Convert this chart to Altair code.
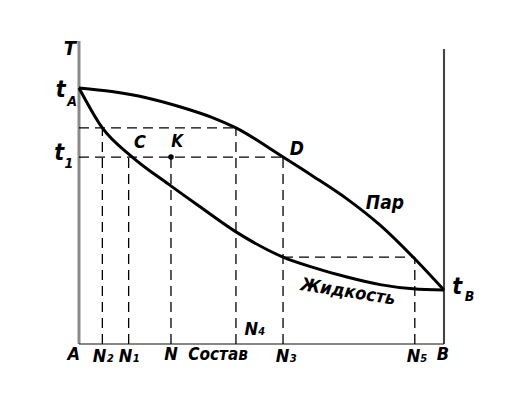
import altair as alt
import pandas as pd

# Composition (% of B) and temperature (arbitrary units)
vap_x = [0, 9.0, 18.4, 27.4, 36.4, 43.0, 55.9, 64.1, 73.4, 82.5, 91.5, 100]
vap_t = [84.5, 83.3, 81.3, 78.4, 74.8, 71.3, 61.7, 55.4, 47.9, 39.2, 28.7, 17.8]
liq_x = [0, 6.4, 14.6, 24.7, 32.1, 43.0, 55.9, 64.1, 73.4, 82.5, 91.5, 100]
liq_t = [84.5, 71.3, 61.7, 52.6, 46.2, 37.0, 28.7, 25.3, 22.1, 19.6, 18.2, 17.8]

# construction levels and compositions
t_hi, t_1, t_lo = 71.3, 61.7, 28.7
n2, n1, n, n4, n3, n5 = 6.4, 13.6, 25.2, 43.0, 55.9, 92.0

# dashed construction segments (x, y, x2, y2)
seg_x = [0, 0, n3, n2, n4, n1, n, n3, n5]
seg_y = [t_hi, t_1, t_lo, 0, 0, 0, 0, 0, 0]
seg_x2 = [n4, n3, n5, n2, n4, n1, n, n3, n5]
seg_y2 = [t_hi, t_1, t_lo, t_hi, t_hi, t_1, t_1, t_1, t_lo]

# labels
lab_text = ["T", "t", "A", "t", "1", "C", "K", "D", "Пар", "t", "B",
            "A", "N₂", "N₁", "N", "Состав", "N₃", "N₅", "B", "N₄"]
lab_x = [-2.5, -5.0, -1.9, -5.4, -2.8, 16.7, 26.9, 59.7, 83.8, 103.6, 107.0,
         -1.4, 6.6, 13.7, 25.2, 38.1, 56.7, 92.6, 99.7, 48.2]
lab_y = [97.4, 83.8, 79.8, 63.0, 59.4, 66.3, 66.6, 64.4, 46.5, 18.8, 15.4,
         -3.5, -4.3, -4.3, -3.5, -3.6, -4.3, -4.3, -3.6, 4.6]
lab_size = [20, 23, 14, 23, 14, 18, 17, 19, 19, 23, 14,
            18, 18, 18, 18, 17, 18, 18, 18, 18]

sx = alt.Scale(domain=[0, 100])
sy = alt.Scale(domain=[0, 100])

vap = pd.DataFrame({"x": vap_x, "t": vap_t})
liq = pd.DataFrame({"x": liq_x, "t": liq_t})
segs = pd.DataFrame({"x": seg_x, "y": seg_y, "x2": seg_x2, "y2": seg_y2})
labs = pd.DataFrame({"text": lab_text, "x": lab_x, "y": lab_y, "size": lab_size})
kpt = pd.DataFrame({"x": [n], "t": [t_1]})
frame = pd.DataFrame({"x": [0, 100, 0], "y": [0, 0, 0], "x2": [0, 100, 100],
                      "y2": [100, 97.4, 0], "part": ["left", "right", "bottom"]})

X = alt.X("x:Q", scale=sx, axis=None)
Y = alt.Y("t:Q", scale=sy, axis=None)
FONT = "DejaVu Sans Condensed, DejaVu Sans"

dashed = alt.Chart(segs).mark_rule(color="black", strokeWidth=1.3, strokeDash=[10, 6]).encode(
    x=alt.X("x:Q", scale=sx, axis=None), y=alt.Y("y:Q", scale=sy, axis=None),
    x2="x2:Q", y2="y2:Q")

frame_chart = alt.Chart(frame).mark_rule().encode(
    x=alt.X("x:Q", scale=sx, axis=None), y=alt.Y("y:Q", scale=sy, axis=None),
    x2="x2:Q", y2="y2:Q",
    color=alt.Color("part:N", scale=alt.Scale(domain=["left", "right", "bottom"],
                                              range=["#8a8a8a", "#444444", "#111111"]), legend=None),
    strokeWidth=alt.StrokeWidth("part:N", scale=alt.Scale(domain=["left", "right", "bottom"],
                                                          range=[3, 1.2, 2]), legend=None))

vap_line = alt.Chart(vap).mark_line(color="black", strokeWidth=3, interpolate="monotone").encode(x=X, y=Y)
liq_line = alt.Chart(liq).mark_line(color="black", strokeWidth=3, interpolate="monotone").encode(x=X, y=Y)
kdot = alt.Chart(kpt).mark_circle(color="black", size=30, opacity=1).encode(x=X, y=Y)

texts = alt.Chart(labs).mark_text(font=FONT, fontStyle="italic", fontWeight="bold",
                                  align="center", baseline="middle", color="black").encode(
    x=alt.X("x:Q", scale=sx, axis=None), y=alt.Y("y:Q", scale=sy, axis=None),
    text="text:N", size=alt.Size("size:Q", scale=None, legend=None))

liq_label = alt.Chart(pd.DataFrame({"text": ["Жидкость"], "x": [73.7], "y": [17.0]})).mark_text(
    font=FONT, fontStyle="italic", fontWeight="bold", fontSize=18, angle=9,
    align="center", baseline="middle", color="black").encode(
    x=alt.X("x:Q", scale=sx, axis=None), y=alt.Y("y:Q", scale=sy, axis=None), text="text:N")

chart = alt.layer(frame_chart, dashed, vap_line, liq_line, kdot, texts, liq_label).properties(
    width=365, height=303,
    autosize=alt.AutoSizeParams(type="none"),
    padding={"left": 71, "top": 33, "right": 66, "bottom": 52},
    background="white",
).configure_view(stroke=None)

chart.save("out.html", embed_options={"renderer": "svg", "actions": False})
